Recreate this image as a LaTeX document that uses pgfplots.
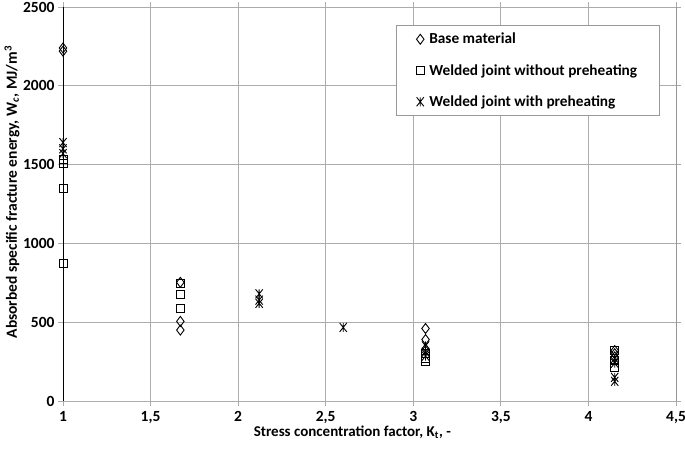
\documentclass[border=0pt]{standalone}
\usepackage{pgfplots}
\pgfplotsset{compat=1.18}
\usepackage{fontspec}
\setmainfont{Carlito}
\pgfdeclareplotmark{xstar}{%
  \pgfpathmoveto{\pgfqpoint{-0.8\pgfplotmarksize}{-\pgfplotmarksize}}%
  \pgfpathlineto{\pgfqpoint{0.8\pgfplotmarksize}{\pgfplotmarksize}}%
  \pgfpathmoveto{\pgfqpoint{-0.8\pgfplotmarksize}{\pgfplotmarksize}}%
  \pgfpathlineto{\pgfqpoint{0.8\pgfplotmarksize}{-\pgfplotmarksize}}%
  \pgfpathmoveto{\pgfqpoint{0pt}{-\pgfplotmarksize}}%
  \pgfpathlineto{\pgfqpoint{0pt}{\pgfplotmarksize}}%
  \pgfusepathqstroke}
\begin{document}
\begin{tikzpicture}[x=1pt,y=1pt]
\begin{axis}[
  scale only axis,
  width=613pt, height=394pt,
  xmin=1, xmax=4.5, ymin=0, ymax=2500,
  xtick={1,1.5,2,2.5,3,3.5,4,4.5},
  ytick={0,500,1000,1500,2000,2500},
  /pgf/number format/use comma,
  /pgf/number format/1000 sep={},
  /pgf/number format/assume math mode=true,
  tick label style={font=\fontsize{15.5}{18}\selectfont\bfseries},
  xticklabel style={yshift=-2pt},
  xlabel style={font=\fontsize{15}{18}\selectfont\bfseries},
  ylabel style={font=\fontsize{15.5}{19}\selectfont\bfseries},
  grid=major,
  grid style={gray!65, line width=0.8pt},
  axis line style={gray!65, line width=0.8pt},
  tick align=outside,
  major tick length=5pt,
  tick style={gray!65, line width=0.8pt},
  xlabel={Stress concentration factor, K\textsubscript{t}, -},
  ylabel={Absorbed specific fracture energy, W\textsubscript{\textit{c}}, MJ/m\textsuperscript{3}},
  xlabel style={at={(axis description cs:0.472,0)}, anchor=north, yshift=-21pt},
  ylabel style={at={(axis description cs:0,0.53)}, anchor=south, yshift=40pt},
  legend style={at={(0.543,0.955)}, anchor=north west, draw=gray!80, line width=0.8pt,
    font=\fontsize{15.3}{18}\selectfont\bfseries, row sep=15pt, inner xsep=20pt, inner ysep=6pt,
    cells={anchor=west}, /tikz/every odd column/.append style={column sep=3pt}},
  legend cell align=left,
  every axis plot/.append style={only marks, black, line width=0.9pt, mark options={fill=none}},
]
\addplot[mark=diamond, mark size=5pt] coordinates {
(1,2240) (1,2220) (1.67,753) (1.67,505) (1.67,450)
(3.07,460) (3.07,390) (3.07,330) (4.15,320) (4.15,300) (4.15,280)};
\addlegendentry{Base material}
\addplot[mark=square, mark size=4pt] coordinates {
(1,1530) (1,1510) (1,1350) (1,870) (1.67,745) (1.67,675) (1.67,585)
(3.07,300) (3.07,270) (3.07,250) (4.15,320) (4.15,260) (4.15,215)};
\addlegendentry{Welded joint without preheating}
\addplot[mark=xstar, mark size=4.5pt] coordinates {
(1,1640) (1,1600) (1,1570) (2.12,680) (2.12,640) (2.12,620) (2.6,467)
(3.07,350) (3.07,310) (3.07,285) (4.15,270) (4.15,240) (4.15,150) (4.15,125)};
\addlegendentry{Welded joint with preheating}
\draw[black, line width=0.9pt] (axis cs:1,0) -- (axis cs:1,2500);
\draw[black, line width=0.9pt] (axis cs:4.5,0) -- (axis cs:4.5,2500);
\end{axis}
\pgfresetboundingbox
\path (current axis.south west) ++(-63pt,-47pt) rectangle ++(685pt,448pt);
\end{tikzpicture}
\end{document}
